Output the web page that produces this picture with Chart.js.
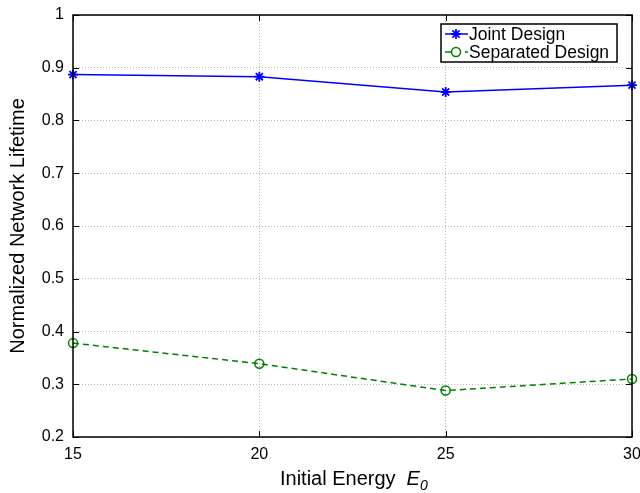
<!DOCTYPE html>
<html>
<head>
<meta charset="utf-8">
<script src="https://cdn.jsdelivr.net/npm/chart.js@4.4.1/dist/chart.umd.min.js"></script>
<style>
  body { margin: 0; background: #fff; }
  #wrap { width: 640px; height: 493px; }
</style>
</head>
<body>
<div id="wrap"><canvas id="lifetime" width="640" height="493"></canvas></div>
<script>
// initial energy values on the x axis
const energies = [15, 20, 25, 30]
const jointDesign = [0.887, 0.883, 0.854, 0.867]
const separatedDesign = [0.378, 0.339, 0.288, 0.310]
const yTicks = [0.2, 0.3, 0.4, 0.5, 0.6, 0.7, 0.8, 0.9, 1]

const FONT = 'Liberation Sans, Arial, Helvetica, sans-serif'

const toPoints = function (ys) {
    return energies.map((x, i) => ({ x: x, y: ys[i] }))
}

// keep the plot box fixed, labels may hang over the edges
const fixX = function (s) {
    s.height = 56
    s.paddingLeft = 0
    s.paddingRight = 0
}
const fixY = function (s) {
    s.width = 73
    s.paddingTop = 0
    s.paddingBottom = 0
}

// box, inward ticks, legend and the x label with E0
const matlabFrame = {
    id: 'matlabFrame',
    afterDraw(chart) {
        const ctx = chart.ctx
        const a = chart.chartArea
        const xs = chart.scales.x
        const ys = chart.scales.y
        ctx.save()
        ctx.strokeStyle = '#000'
        ctx.lineWidth = 1
        // inward tick marks on all four sides
        ctx.beginPath()
        energies.forEach(v => {
            const px = Math.round(xs.getPixelForValue(v)) + 0.5
            ctx.moveTo(px, a.bottom); ctx.lineTo(px, a.bottom - 6)
            ctx.moveTo(px, a.top); ctx.lineTo(px, a.top + 6)
        })
        yTicks.forEach(v => {
            const py = Math.round(ys.getPixelForValue(v)) + 0.5
            ctx.moveTo(a.left, py); ctx.lineTo(a.left + 6, py)
            ctx.moveTo(a.right, py); ctx.lineTo(a.right - 6, py)
        })
        ctx.stroke()
        ctx.lineWidth = 1.5
        ctx.strokeRect(a.left, a.top, a.right - a.left, a.bottom - a.top)

        // legend
        const lx = 441, ly = 24, lw = 176, lh = 38
        ctx.fillStyle = '#fff'
        ctx.fillRect(lx, ly, lw, lh)
        ctx.lineWidth = 1.5
        ctx.strokeRect(lx, ly, lw, lh)
        ctx.font = '17.5px ' + FONT
        ctx.textBaseline = 'middle'
        const rows = [
            { label: 'Joint Design', ds: chart.data.datasets[0] },
            { label: 'Separated Design', ds: chart.data.datasets[1] }
        ]
        rows.forEach((r, i) => {
            const cy = ly + 10 + i * 18
            ctx.strokeStyle = r.ds.borderColor
            ctx.lineWidth = r.ds.borderWidth
            ctx.setLineDash(r.ds.borderDash || [])
            ctx.beginPath()
            ctx.moveTo(lx + 4, cy); ctx.lineTo(lx + 27, cy)
            ctx.stroke()
            ctx.setLineDash([])
            ctx.fillStyle = '#fff'
            ctx.lineWidth = r.ds.pointBorderWidth
            Chart.helpers.drawPoint(ctx, {
                pointStyle: r.ds.pointStyle,
                radius: r.ds.pointRadius,
                borderWidth: r.ds.pointBorderWidth,
                rotation: 0
            }, lx + 15, cy)
            ctx.fillStyle = '#000'
            ctx.fillText(r.label, lx + 28, cy + 1)
        })

        // x axis title: Initial Energy  E0
        ctx.textBaseline = 'alphabetic'
        ctx.font = '20px ' + FONT
        const base = 485
        let tx = 280
        ctx.fillText('Initial Energy', tx, base)
        tx += ctx.measureText('Initial Energy').width + 11
        ctx.font = 'italic 20px ' + FONT
        ctx.fillText('E', tx, base)
        tx += ctx.measureText('E').width
        ctx.font = 'italic 14px ' + FONT
        ctx.fillText('0', tx, base + 5)
        ctx.restore()
    }
}

const ctx = document.getElementById('lifetime')
new Chart(ctx, {
    type: 'line',
    data: {
        datasets: [{
            label: 'Joint Design',
            data: toPoints(jointDesign),
            borderColor: '#0000ff',
            backgroundColor: '#0000ff',
            borderWidth: 1.5,
            pointStyle: 'star',
            pointRadius: 5,
            pointBorderWidth: 1.8,
            pointBorderColor: '#0000ff',
            tension: 0,
            clip: false
        }, {
            label: 'Separated Design',
            data: toPoints(separatedDesign),
            borderColor: '#008000',
            backgroundColor: 'rgba(0,0,0,0)',
            borderWidth: 1.5,
            borderDash: [6, 4],
            pointStyle: 'circle',
            pointRadius: 4.5,
            pointBorderWidth: 1.5,
            pointBorderColor: '#008000',
            tension: 0,
            clip: false
        }]
    },
    options: {
        responsive: false,
        animation: false,
        devicePixelRatio: 1,
        layout: { padding: { top: 15, right: 8, left: 0, bottom: 0 } },
        plugins: {
            legend: { display: false },
            tooltip: { enabled: false }
        },
        scales: {
            x: {
                type: 'linear',
                min: 15,
                max: 30,
                afterFit: fixX,
                ticks: {
                    stepSize: 5,
                    color: '#000',
                    padding: 8,
                    maxRotation: 0,
                    font: { family: FONT, size: 16 }
                },
                grid: { color: '#b8b8b8', lineWidth: 1, drawTicks: false },
                border: { display: false, dash: [1, 2] }
            },
            y: {
                min: 0.2,
                max: 1,
                afterFit: fixY,
                ticks: {
                    stepSize: 0.1,
                    color: '#000',
                    padding: 9,
                    callback: v => String(Number(v.toFixed(1))),
                    font: { family: FONT, size: 16 }
                },
                grid: { color: '#b8b8b8', lineWidth: 1, drawTicks: false },
                border: { display: false, dash: [1, 2] },
                title: {
                    display: true,
                    text: 'Normalized Network Lifetime',
                    color: '#000',
                    padding: { top: 6, bottom: 0 },
                    font: { family: FONT, size: 20 }
                }
            }
        }
    },
    plugins: [matlabFrame]
})
</script>
</body>
</html>
